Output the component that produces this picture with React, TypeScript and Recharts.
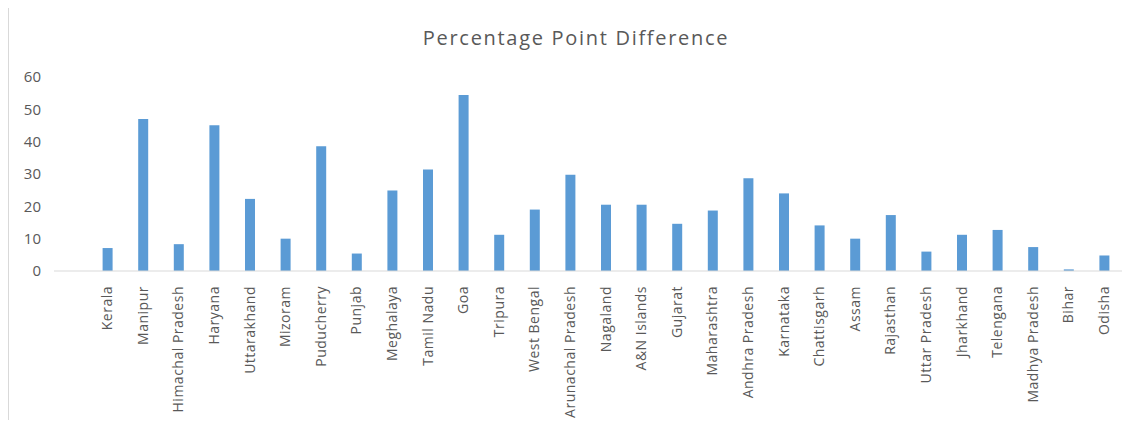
import { BarChart, Bar, XAxis, YAxis } from "recharts";

const states = [
  "Kerala", "Manipur", "Himachal Pradesh", "Haryana", "Uttarakhand", "Mizoram",
  "Puducherry", "Punjab", "Meghalaya", "Tamil Nadu", "Goa", "Tripura",
  "West Bengal", "Arunachal Pradesh", "Nagaland", "A&N Islands", "Gujarat",
  "Maharashtra", "Andhra Pradesh", "Karnataka", "Chattisgarh", "Assam",
  "Rajasthan", "Uttar Pradesh", "Jharkhand", "Telengana", "Madhya Pradesh",
  "Bihar", "Odisha",
];

const pointDiff = [
  7.1, 47.0, 8.3, 45.1, 22.3, 10.0, 38.6, 5.4, 24.9, 31.4, 54.4, 11.2, 19.0,
  29.8, 20.5, 20.5, 14.6, 18.7, 28.7, 24.0, 14.1, 10.0, 17.3, 6.0, 11.2, 12.7,
  7.4, 0.5, 4.8,
];

const yTicks = [0, 10, 20, 30, 40, 50, 60];

const data = states.map((s, i) => ({ state: s, value: pointDiff[i] }));

const FONT = "'Open Sans', sans-serif";
const TEXT = "#595959";

function StateTick(props: any) {
  const { x, y, payload } = props;
  return (
    <text
      x={x}
      y={y}
      transform={`rotate(-90, ${x}, ${y})`}
      textAnchor="end"
      dy="0.35em"
      fontSize={14}
      letterSpacing={0.5}
      fontFamily={FONT}
      fill={TEXT}
    >
      {payload.value}
    </text>
  );
}

export default function App() {
  return (
    <div style={{ position: "relative", margin: -8, width: 1138, height: 428, overflow: "hidden", background: "#fff" }}>
      <div
        style={{
          position: "absolute",
          left: 7,
          top: 4,
          width: 1140,
          height: 430,
          borderLeft: "2px solid #d9d9d9",
          borderTop: "2px solid #d9d9d9",
        }}
      />
      <div
        style={{
          position: "absolute",
          left: 0,
          top: 24,
          width: 1152,
          textAlign: "center",
          fontFamily: FONT,
          fontSize: 20,
          letterSpacing: 1.7,
          color: TEXT,
        }}
      >
        Percentage Point Difference
      </div>
      <div style={{ position: "absolute", left: 0, top: 0 }}>
        <BarChart
          width={1138}
          height={428}
          data={data}
          margin={{ top: 77, right: 16, bottom: 7, left: 0 }}
          barSize={10}
        >
          <XAxis
            dataKey="state"
            interval={0}
            height={150}
            padding={{ left: 35.6, right: 0 }}
            tickLine={false}
            axisLine={{ stroke: "#d9d9d9", strokeWidth: 1 }}
            tick={<StateTick />}
            tickMargin={9}
          />
          <YAxis
            width={54}
            domain={[0, 60]}
            ticks={yTicks}
            axisLine={false}
            tickLine={false}
            tickSize={0}
            tickMargin={13}
            tick={{ fontSize: 15, fontFamily: FONT, fill: TEXT }}
          />
          <Bar dataKey="value" fill="#5b9bd5" isAnimationActive={false} />
        </BarChart>
      </div>
    </div>
  );
}
